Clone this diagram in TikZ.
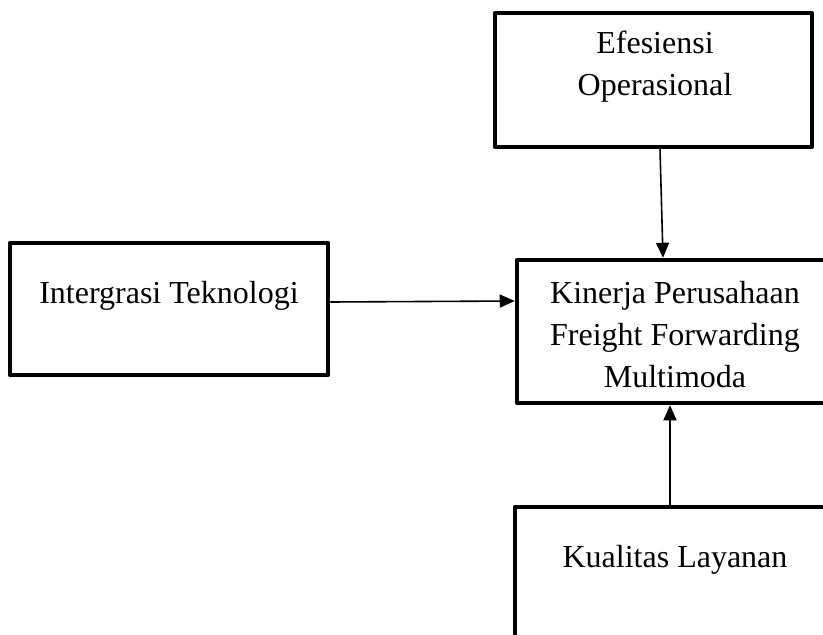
\documentclass[tikz,border=0pt]{standalone}
\usepackage{fontspec}
\setmainfont{Liberation Serif}
\usetikzlibrary{arrows.meta}
\begin{document}
\begin{tikzpicture}[x=1pt,y=-1pt,
  box/.style={draw=black,line width=4.5pt,line join=round,rectangle,inner sep=0pt},
  lbl/.style={align=center,inner sep=0pt,font=\fontsize{32}{42}\selectfont},
  arr/.style={draw=black,line width=1.6pt,-{Triangle[length=15pt,width=13pt]}}]
\clip (0,0) rectangle (823,635);
\fill[white] (0,0) rectangle (823,635);
% boxes
\node[box,minimum width=317pt,minimum height=134pt] (eo) at (653.5,80) {};
\node[lbl] (eot) at (655,67) {Efesiensi\\Operasional};
\node[box,minimum width=318pt,minimum height=132pt] (it) at (169,309) {};
\node[lbl] (itt) at (169,296) {Intergrasi Teknologi};
\node[box,minimum width=316pt,minimum height=143pt] (kp) at (675,331.5) {};
\node[lbl] (kpt) at (675,335) {Kinerja Perusahaan\\Freight Forwarding\\Multimoda};
\node[box,minimum width=320pt,minimum height=190pt] (kl) at (675,602) {};
\node[lbl] (klt) at (675,560) {Kualitas Layanan};
% connectors
\draw[arr] ([xshift=6.5pt]eo.south) -- ([xshift=-12pt]kp.north);
\draw[arr] ([yshift=7pt]it.east) -- ([yshift=30.5pt]kp.west);
\draw[arr] ([xshift=-5pt]kl.north) -- ([xshift=-5pt]kp.south);
\end{tikzpicture}
\end{document}
